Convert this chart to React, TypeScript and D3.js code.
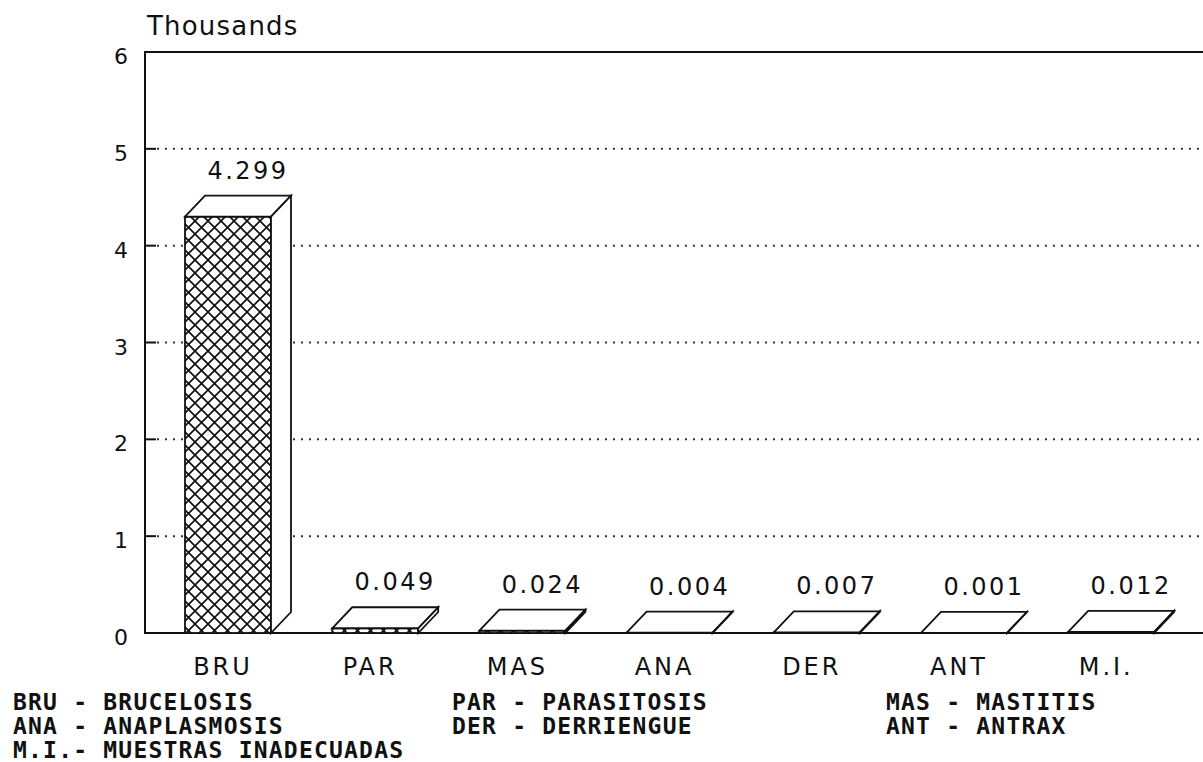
import { useEffect, useRef } from 'react'
import * as d3 from 'd3'

// values in thousands
const categories = ['BRU', 'PAR', 'MAS', 'ANA', 'DER', 'ANT', 'M.I.']
const values = [4.299, 0.049, 0.024, 0.004, 0.007, 0.001, 0.012]
const yTicks = [0, 1, 2, 3, 4, 5, 6]

const legendCol1 = ['BRU - BRUCELOSIS', 'ANA - ANAPLASMOSIS', 'M.I.- MUESTRAS INADECUADAS']
const legendCol2 = ['PAR - PARASITOSIS', 'DER - DERRIENGUE']
const legendCol3 = ['MAS - MASTITIS', 'ANT - ANTRAX']

const W = 1203
const H = 762

export default function App() {
  const ref = useRef<SVGSVGElement | null>(null)

  useEffect(() => {
    const svg = d3.select(ref.current)
    svg.selectAll('*').remove()

    const left = 145
    const top = 52
    const bottom = 633
    const right = W
    const step = 147.2
    const barW = 86
    const dx = 20
    const dy = 21
    const ink = '#111'
    const font = "'DejaVu Sans', Verdana, sans-serif"

    const x = d3
      .scaleBand()
      .domain(categories)
      .range([left, left + step * categories.length])
      .padding(0)

    const y = d3.scaleLinear().domain([0, 6]).range([bottom, top])

    // cross hatch for the bar fronts
    const defs = svg.append('defs')
    const pat = defs
      .append('pattern')
      .attr('id', 'xhatch')
      .attr('patternUnits', 'userSpaceOnUse')
      .attr('width', 13)
      .attr('height', 13)
    pat.append('rect').attr('width', 13).attr('height', 13).attr('fill', '#fff')
    pat
      .append('path')
      .attr('d', 'M0,0L13,13M13,0L0,13')
      .attr('stroke', ink)
      .attr('stroke-width', 1.7)

    svg.append('rect').attr('width', W).attr('height', H).attr('fill', '#fff')

    // dotted grid + small tick stubs
    const grid = svg.append('g')
    yTicks
      .filter((t) => t > 0 && t < 6)
      .forEach((t) => {
        grid
          .append('line')
          .attr('x1', left + 12)
          .attr('x2', right)
          .attr('y1', y(t))
          .attr('y2', y(t))
          .attr('stroke', '#333')
          .attr('stroke-width', 2)
          .attr('stroke-dasharray', '2,6')
        grid
          .append('line')
          .attr('x1', left)
          .attr('x2', left + 11)
          .attr('y1', y(t))
          .attr('y2', y(t))
          .attr('stroke', ink)
          .attr('stroke-width', 2)
      })

    // frame
    svg
      .append('path')
      .attr('d', `M${right},${y(6)}H${left}V${bottom}H${right}`)
      .attr('fill', 'none')
      .attr('stroke', ink)
      .attr('stroke-width', 2)

    // y tick labels
    svg
      .append('g')
      .selectAll('text')
      .data(yTicks)
      .enter()
      .append('text')
      .attr('x', 121)
      .attr('y', (d) => y(d) + 12)
      .attr('text-anchor', 'middle')
      .attr('font-family', font)
      .attr('font-size', 22)
      .attr('fill', ink)
      .text((d) => d)

    svg
      .append('text')
      .attr('x', 147)
      .attr('y', 35)
      .attr('font-family', font)
      .attr('font-size', 26)
      .attr('letter-spacing', 1.2)
      .attr('fill', ink)
      .text('Thousands')

    // 3D bars
    const bars = svg.append('g')
    categories.forEach((c, i) => {
      const v = values[i]
      const x0 = x(c)! + 40
      const x1 = x0 + barW
      const yt = y(v)
      const yb = y(0)
      const g = bars.append('g')
      g.append('rect')
        .attr('x', x0)
        .attr('y', yt)
        .attr('width', barW)
        .attr('height', yb - yt)
        .attr('fill', 'url(#xhatch)')
        .attr('stroke', ink)
        .attr('stroke-width', 1.8)
      g.append('path')
        .attr('d', `M${x0},${yt}L${x0 + dx},${yt - dy}H${x1 + dx}L${x1},${yt}Z`)
        .attr('fill', '#fff')
        .attr('stroke', ink)
        .attr('stroke-width', 1.8)
      g.append('path')
        .attr('d', `M${x1},${yt}L${x1 + dx},${yt - dy}V${yb - dy}L${x1},${yb}Z`)
        .attr('fill', '#fff')
        .attr('stroke', ink)
        .attr('stroke-width', 1.8)
      g.append('text')
        .attr('x', x0 + dx + barW / 2)
        .attr('y', yt - dy - 17)
        .attr('text-anchor', 'middle')
        .attr('font-family', font)
        .attr('font-size', 24)
        .attr('letter-spacing', 2.5)
        .attr('fill', ink)
        .text(d3.format('.3f')(v))
    })

    // category labels
    svg
      .append('g')
      .selectAll('text')
      .data(categories)
      .enter()
      .append('text')
      .attr('x', (d) => x(d)! + 78)
      .attr('y', 675)
      .attr('text-anchor', 'middle')
      .attr('font-family', font)
      .attr('font-size', 24)
      .attr('letter-spacing', 3)
      .attr('fill', ink)
      .text((d) => d)

    // abbreviation legend
    const legend = svg
      .append('g')
      .attr('font-family', "'DejaVu Sans Mono', monospace")
      .attr('font-weight', 'bold')
      .attr('font-size', 23)
      .attr('letter-spacing', 1.2)
      .attr('fill', ink)
    const cols: [string[], number][] = [
      [legendCol1, 13],
      [legendCol2, 452],
      [legendCol3, 886],
    ]
    cols.forEach(([rows, cx]) => {
      rows.forEach((r, j) => {
        legend
          .append('text')
          .attr('x', cx)
          .attr('y', 710 + j * 24)
          .style('white-space', 'pre')
          .text(r)
      })
    })
  }, [])

  return (
    <svg
      ref={ref}
      width={W}
      height={H}
      style={{ position: 'absolute', left: 0, top: 0, display: 'block' }}
    />
  )
}
